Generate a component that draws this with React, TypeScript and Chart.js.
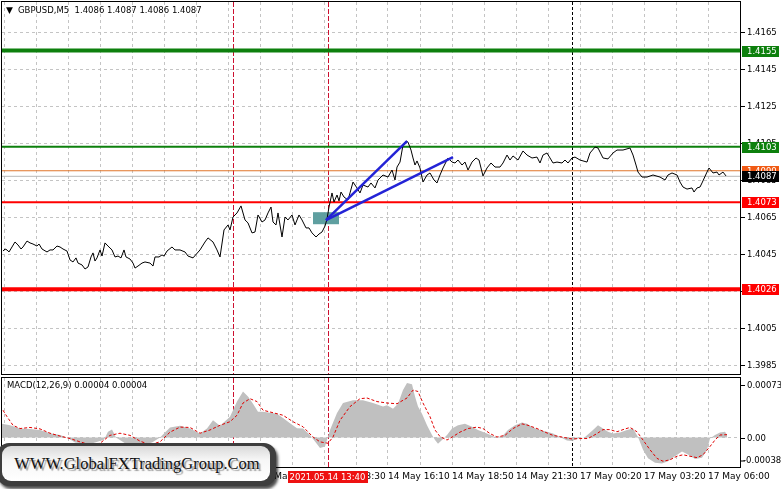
import React, { useEffect, useRef } from "react";
import { Chart, registerables } from "chart.js";

Chart.register(...registerables);

// ---------------- DATA ----------------
// close prices: [bar index, close]
const closeSeries: [number, number][] = [
  [0.5,1.40466],[1.5,1.40477],[2.5,1.40472],[3.5,1.40461],[5,1.40488],[6.5,1.40515],[8,1.40499],[9.5,1.40477],[10.5,1.40488],[12.5,1.40520],
  [14,1.40510],[15.5,1.40504],[17.5,1.40493],[18.5,1.40504],[20,1.40477],[22.5,1.40461],[24,1.40472],[25.5,1.40472],[27.5,1.40493],[29,1.40488],
  [30.5,1.40477],[32.5,1.40466],[34,1.40418],[35.5,1.40407],[37,1.40429],[38,1.40401],[40,1.40391],[41.5,1.40369],[43,1.40380],[44.5,1.40434],
  [45.5,1.40456],[46.5,1.40412],[47.5,1.40429],[49,1.40472],[50,1.40439],[51.5,1.40510],[53,1.40493],[55,1.40472],[56.5,1.40434],[58,1.40439],
  [59.5,1.40429],[61,1.40472],[62,1.40434],[64,1.40423],[65.5,1.40401],[66.5,1.40374],[68,1.40385],[70,1.40401],[71.5,1.40407],[74,1.40401],
  [75.5,1.40385],[76.5,1.40434],[78.5,1.40434],[80,1.40445],[81,1.40439],[82.5,1.40466],[85,1.40488],[86.5,1.40472],[89,1.40472],[91.5,1.40461],
  [93,1.40439],[95.5,1.40429],[99,1.40472],[101.5,1.40515],[103,1.40537],[105.5,1.40515],[107.5,1.40472],[109,1.40434],[111,1.40580],[113,1.40607],
  [114,1.40580],[115.5,1.40650],[117.5,1.40672],[119.5,1.40710],[121.5,1.40634],[123,1.40618],[125,1.40564],[126.5,1.40569],[128,1.40661],[130,1.40623],
  [131.5,1.40634],[133,1.40672],[134.5,1.40704],[135.5,1.40623],[137,1.40607],[138,1.40672],[140,1.40542],[141.5,1.40650],[143,1.40634],[145,1.40661],
  [146.5,1.40607],[148.5,1.40661],[150,1.40634],[152,1.40591],[153.5,1.40591],[155,1.40564],[157,1.40542],[158.5,1.40558],[160,1.40569],[161.5,1.40601],
  [162.5,1.40639],[163.5,1.40704],[165,1.40780],[166,1.40731],[167.5,1.40769],[168.5,1.40737],[169.5,1.40785],[171,1.40758],[173,1.40742],[174,1.40780],
  [175.5,1.40839],[177.5,1.40807],[179,1.40780],[180.5,1.40823],[183,1.40812],[184.5,1.40834],[186.5,1.40807],[188,1.40850],[190.5,1.40877],[193,1.40866],
  [195,1.40904],[196.5,1.40850],[197.5,1.40920],[199,1.40947],[200.5,1.41039],[202,1.41061],[203,1.41055],[204.5,1.41012],[205.5,1.40969],[206.5,1.40931],
  [207.5,1.40953],[209,1.40915],[210.5,1.40839],[212.5,1.40877],[214,1.40888],[216,1.40850],[217.5,1.40834],[219,1.40877],[220.5,1.40915],[223,1.40969],
  [225,1.40947],[226.5,1.40942],[228,1.40958],[230,1.40931],[231.5,1.40947],[233,1.40904],[235,1.40947],[237,1.40969],[238.5,1.40958],[240.5,1.40872],
  [242.5,1.40915],[244.5,1.40942],[246.5,1.40920],[249,1.40920],[250.5,1.40942],[252.5,1.40985],[254,1.40958],[255.5,1.40980],[258,1.40958],[260.5,1.41007],
  [262.5,1.40985],[265,1.40969],[267.5,1.40974],[269,1.40942],[270.5,1.40985],[272.5,1.40996],[274,1.40969],[275.5,1.40942],[277.5,1.40947],[280,1.40942],
  [281.5,1.40958],[283,1.40942],[285,1.40969],[286.5,1.40974],[289,1.40958],[292.5,1.40947],[294,1.40996],[296.5,1.41028],[298,1.41023],[300.5,1.40969],
  [303,1.40964],[305.5,1.40996],[307.5,1.41012],[310.5,1.41012],[314,1.41023],[315.5,1.40985],[317,1.40931],[318,1.40893],[320,1.40866],[322.5,1.40866],
  [325.5,1.40877],[329,1.40866],[331.5,1.40850],[333,1.40877],[335,1.40888],[337.5,1.40877],[339,1.40839],[340.5,1.40812],[342.5,1.40801],[345,1.40807],
  [346,1.40785],[347.5,1.40807],[349,1.40812],[350,1.40834],[352.5,1.40893],[353.5,1.40915],[355.5,1.40888],[357.5,1.40893],[358.5,1.40877],[360.5,1.40893],
  [362,1.40872],
];

// MACD(12,26,9) main (histogram): [bar, value]
const macdMain: [number, number][] = [
  [0,0.00019],[4,0.00017],[9,0.000125],[14,0.00012],[19,0.000105],[24,0.00006],[29,0.000035],[32.5,0],[36.5,-0.00007],[44,-0.00009],
  [51,-0.00003],[53,0.00008],[55,0.00011],[57,0],[61.5,-0.00008],[69,-0.00011],[75,-0.00007],[79,0],[84,0.00014],[89,0.000165],
  [94,0.000125],[99,0.000055],[102.5,0.000125],[105.5,0.00024],[109,0.000165],[114,0.00029],[117.5,0.0005],[120.5,0.00064],[123,0.00057],[125.5,0.00047],
  [128,0.00036],[130.5,0.00036],[134,0.000345],[137.5,0.00033],[140.5,0.00027],[144,0.0002],[147.5,0.00013],[150.5,0.000125],[154,0.000035],[156.5,-0.000055],
  [159,-0.000145],[161.5,-0.000125],[164,0.000105],[167.5,0.00034],[170.5,0.00048],[175.5,0.00052],[180.5,0.00052],[185.5,0.00048],[190.5,0.00043],[192.5,0.00045],
  [195.5,0.0004],[198,0.00047],[200.5,0.00066],[202.5,0.00076],[205,0.00074],[206.5,0.00057],[208,0.00043],[210,0.00033],[212.5,0.00017],[215,0.000035],
  [216.5,-0.000035],[218,-0.000085],[220,-0.000035],[222.5,0.000035],[225,0.000125],[228,0.00017],[231.5,0.00019],[235,0.00015],[238,0.000105],[242.5,0.000055],
  [246.5,0.000007],[250,0.000014],[253,0.000105],[256.5,0.00017],[260,0.00021],[262.5,0.00019],[265.5,0.00014],[269,0.000105],[272.5,0.00008],[275.5,0.000055],
  [279,0.000007],[282.5,-0.00004],[285,-0.00005],[288,-0.000014],[291.5,0.000007],[295.5,0.000105],[298,0.00017],[300.5,0.000125],[303,0.00008],[305.5,0.000055],
  [309,0.00007],[312.5,0.000105],[315.5,0.000125],[318,0.000007],[320.5,-0.00017],[323,-0.00029],[326.5,-0.00035],[330,-0.00036],[333,-0.00033],[336.5,-0.00026],
  [340,-0.000195],[343,-0.000235],[346.5,-0.0003],[350,-0.00028],[352.5,-0.00017],[354,-0.000014],[356.5,0.000035],[359,0.00007],[361.5,0.00008],[362.5,0.00004],
];

// MACD signal line: [bar, value]
const macdSignal: [number, number][] = [
  [0.5,0.00038],[2.5,0.00029],[5.5,0.00017],[9,0.000125],[14,0.00014],[19,0.00012],[24,0.00006],[29,0.00002],[34,-0.000014],[39,-0.00006],
  [44,-0.0001],[49,-0.00008],[54,0.00003],[59,0.00006],[64,0.00003],[69,-0.00005],[74,-0.0001],[79,-0.00006],[84,0.000075],[89,0.000145],
  [94,0.00014],[99,0.00006],[104,0.000105],[109,0.00017],[114,0.00022],[117.5,0.00031],[120.5,0.00048],[124,0.00054],[127.5,0.0005],[130.5,0.00038],
  [135.5,0.000345],[140.5,0.00031],[145.5,0.00022],[150.5,0.00015],[155.5,0.000007],[159,-0.00006],[163,-0.00008],[165.5,0.000007],[169,0.00024],[174,0.00043],
  [179,0.00054],[182.5,0.00055],[187.5,0.0005],[192.5,0.00048],[197.5,0.00047],[202.5,0.00055],[205.5,0.00066],[208,0.00064],[210.5,0.00048],[214,0.00029],
  [216.5,0.000105],[219,0.000014],[222.5,-0.000035],[225.5,0.000014],[229,0.000075],[233,0.000125],[237.5,0.000145],[240.5,0.000125],[244,0.000055],[247.5,0.000007],
  [251.5,0.00003],[255.5,0.000125],[260,0.00019],[263,0.00017],[267.5,0.000125],[271.5,0.000075],[275.5,0.00003],[280,0.000007],[285,-0.00002],[289,-0.000014],
  [293,-0.000014],[297.5,0.000055],[300.5,0.00011],[304,0.00011],[307.5,0.00008],[310.5,0.00011],[314,0.00014],[317.5,0.00008],[320.5,-0.000035],[324,-0.00017],
  [327.5,-0.00029],[330.5,-0.00033],[334,-0.00031],[337.5,-0.00026],[340.5,-0.00024],[344,-0.00026],[347.5,-0.00028],[350.5,-0.00024],[354,-0.000125],[356.5,-0.000035],
  [359,0.000035],[362.5,0.00004],
];

const priceTicks = [1.3985, 1.4005, 1.4025, 1.4045, 1.4065, 1.4085, 1.4105, 1.4125, 1.4145, 1.4165];
const macdTicks = [0.00073, 0, -0.00038];
const macdTickLabels = ["0.00073", "0.00", "-0.00038"];

const levelPrices = [1.4155, 1.4103, 1.409, 1.4073, 1.4026];
const bidPrice = 1.4087;

const timeLabelBars = [1, 33, 65, 97, 129, 161, 193, 225, 257, 289, 321, 353];
const timeLabels = ["14 May 00:10", "14 May 02:50", "14 May 05:30", "14 May 08:10", "14 May 10:50", "14 May 13:30",
  "14 May 16:10", "14 May 18:50", "14 May 21:30", "17 May 00:20", "17 May 03:20", "17 May 06:00"];

const redLineBars = [115.5, 162.75];
const separatorBars = [285];
const cursorBar = 162.75;
const cursorLabel = "2021.05.14 13:40";

const trendStart: [number, number] = [162, 1.40633];
const trendEnds: [number, number][] = [[202.5, 1.4106], [225.5, 1.40974]];
const zoneBars = [155.5, 168.5];
const zonePrices = [1.40611, 1.40676];

const titleText = "GBPUSD,M5  1.4086 1.4087 1.4086 1.4087";
const macdTitle = "MACD(12,26,9) 0.00004 0.00004";
const logoText = "WWW.GlobalFXTradingGroup.Com";

// ---------------- STYLE / LAYOUT ----------------
const FONT = '"DejaVu Sans", Verdana, sans-serif';
const X_MIN = 0;
const X_MAX = 369;
const PRICE_MIN = 1.398014;
const PRICE_MAX = 1.418122;
const MACD_MIN = -0.00041;
const MACD_MAX = 0.000828;
const GRID = "#c4c4c4";
const levelStyles = [
  { line: "#0d800d", width: 4, box: "#0d800d" },
  { line: "#0d800d", width: 2, box: "#0d800d" },
  { line: "#e0742a", width: 1, box: "#f05a14" },
  { line: "#ff0000", width: 2, box: "#ff0000" },
  { line: "#ff0000", width: 4, box: "#ff0000" },
];
const gridBars: number[] = [];
for (let b = 1; b <= X_MAX; b += 16) gridBars.push(b);

function xScale(height: number) {
  return {
    type: "linear",
    min: X_MIN,
    max: X_MAX,
    afterBuildTicks: (s: any) => { s.ticks = gridBars.map((v) => ({ value: v })); },
    afterFit: (s: any) => { s.height = height; },
    ticks: { display: false },
    grid: { color: GRID, lineWidth: 1, drawTicks: false },
    border: { display: false, dash: [3, 3] },
  };
}

function vline(ctx: CanvasRenderingContext2D, px: number, top: number, bottom: number, color: string, dash: number[]) {
  ctx.save();
  ctx.strokeStyle = color;
  ctx.lineWidth = 1;
  ctx.setLineDash(dash);
  const X = Math.round(px) + 0.5;
  ctx.beginPath();
  ctx.moveTo(X, top);
  ctx.lineTo(X, bottom);
  ctx.stroke();
  ctx.restore();
}

function drawVLines(chart: any) {
  const { ctx, chartArea: a, scales } = chart;
  const x = scales.x;
  redLineBars.forEach((b) => vline(ctx, x.getPixelForValue(b), a.top, a.bottom, "#cc1030", [5, 2]));
  separatorBars.forEach((b) => vline(ctx, x.getPixelForValue(b), a.top, a.bottom, "#000000", [3, 2]));
}

function drawBorder(chart: any) {
  const { ctx, chartArea: a } = chart;
  ctx.save();
  ctx.strokeStyle = "#000";
  ctx.lineWidth = 1;
  ctx.setLineDash([]);
  ctx.strokeRect(a.left - 0.5, a.top - 0.5, a.right - a.left + 1, a.bottom - a.top + 1);
  ctx.restore();
}

const mainPlugin = {
  id: "mainDecor",
  beforeDatasetsDraw(chart: any) {
    const { ctx, chartArea: a, scales } = chart;
    const { x, y } = scales;
    ctx.save();
    ctx.beginPath();
    ctx.rect(a.left, a.top, a.right - a.left, a.bottom - a.top);
    ctx.clip();
    drawVLines(chart);
    const rx1 = x.getPixelForValue(zoneBars[0]);
    const rx2 = x.getPixelForValue(zoneBars[1]);
    const ry1 = y.getPixelForValue(zonePrices[1]);
    const ry2 = y.getPixelForValue(zonePrices[0]);
    ctx.fillStyle = "#5f9fa0";
    ctx.fillRect(rx1, ry1, rx2 - rx1, ry2 - ry1);
    ctx.restore();
  },
  afterDraw(chart: any) {
    const { ctx, chartArea: a, scales } = chart;
    const y = scales.y;
    drawBorder(chart);
    ctx.save();
    ctx.font = `8.5px ${FONT}`;
    ctx.textBaseline = "middle";
    ctx.textAlign = "left";
    priceTicks.forEach((v) => {
      const py = Math.round(y.getPixelForValue(v)) + 0.5;
      ctx.strokeStyle = "#000";
      ctx.lineWidth = 1;
      ctx.beginPath();
      ctx.moveTo(a.right + 1, py);
      ctx.lineTo(a.right + 5, py);
      ctx.stroke();
      ctx.fillStyle = "#000";
      ctx.fillText(v.toFixed(4), a.right + 7, py);
    });
    const box = (p: number, bg: string) => {
      const py = y.getPixelForValue(p);
      ctx.fillStyle = bg;
      ctx.fillRect(a.right + 2, Math.round(py) - 5, 37, 11);
      ctx.fillStyle = "#fff";
      ctx.fillText(p.toFixed(4), a.right + 7, Math.round(py) + 0.5);
    };
    levelPrices.forEach((p, i) => box(p, levelStyles[i].box));
    box(bidPrice, "#000");
    ctx.fillStyle = "#000";
    ctx.font = `9px ${FONT}`;
    ctx.fillText("\u25BC", 6, 11);
    ctx.font = `8.5px ${FONT}`;
    ctx.fillText(titleText, 18, 11);
    ctx.restore();
  },
};

const macdPlugin = {
  id: "macdDecor",
  beforeDatasetsDraw(chart: any) {
    const { ctx, chartArea: a } = chart;
    ctx.save();
    ctx.beginPath();
    ctx.rect(a.left, a.top, a.right - a.left, a.bottom - a.top);
    ctx.clip();
    drawVLines(chart);
    ctx.restore();
  },
  afterDraw(chart: any) {
    const { ctx, chartArea: a, scales } = chart;
    const { x, y } = scales;
    drawBorder(chart);
    ctx.save();
    ctx.font = `8.5px ${FONT}`;
    ctx.textBaseline = "middle";
    ctx.textAlign = "left";
    ctx.fillStyle = "#000";
    macdTicks.forEach((v, i) => {
      let py = Math.round(y.getPixelForValue(v)) + 0.5;
      if (py > a.bottom - 6) py = a.bottom - 6;
      ctx.strokeStyle = "#000";
      ctx.lineWidth = 1;
      ctx.beginPath();
      ctx.moveTo(a.right + 1, py);
      ctx.lineTo(a.right + 5, py);
      ctx.stroke();
      ctx.fillText(macdTickLabels[i], v < 0 ? a.right + 3 : a.right + 7, py);
    });
    ctx.font = `9px ${FONT}`;
    timeLabelBars.forEach((b, i) => {
      ctx.fillText(timeLabels[i], Math.round(x.getPixelForValue(b)), a.bottom + 10);
    });
    const cx = x.getPixelForValue(cursorBar);
    ctx.fillStyle = "#ee1111";
    ctx.fillRect(Math.round(cx - 40), a.bottom + 4, 80, 12);
    ctx.fillStyle = "#fff";
    ctx.textAlign = "center";
    ctx.font = `8.5px ${FONT}`;
    ctx.fillText(cursorLabel, cx, a.bottom + 10.5);
    ctx.textAlign = "left";
    ctx.fillStyle = "#000";
    ctx.fillText(macdTitle, 7, a.top + 8);
    ctx.restore();
  },
};

export default function App() {
  const mainRef = useRef<HTMLCanvasElement>(null);
  const macdRef = useRef<HTMLCanvasElement>(null);

  useEffect(() => {
    const levelDatasets = levelPrices.map((p, i) => ({
      data: [{ x: X_MIN, y: p }, { x: X_MAX, y: p }],
      borderColor: levelStyles[i].line,
      borderWidth: levelStyles[i].width,
      pointRadius: 0,
      order: 3,
    }));
    const main = new Chart(mainRef.current as HTMLCanvasElement, {
      type: "line",
      data: {
        datasets: [
          ...trendEnds.map((e) => ({
            data: [{ x: trendStart[0], y: trendStart[1] }, { x: e[0], y: e[1] }],
            borderColor: "#2323d6",
            borderWidth: 2.5,
            pointRadius: 0,
            order: 0,
          })),
          {
            data: closeSeries.map(([b, v]) => ({ x: b, y: v })),
            borderColor: "#000",
            borderWidth: 1,
            pointRadius: 0,
            tension: 0,
            order: 1,
          },
          {
            data: [{ x: X_MIN, y: bidPrice }, { x: X_MAX, y: bidPrice }],
            borderColor: "#b8b8b8",
            borderWidth: 1,
            pointRadius: 0,
            order: 2,
          },
          ...levelDatasets,
        ],
      } as any,
      options: {
        responsive: false,
        animation: false,
        devicePixelRatio: 1,
        events: [],
        layout: { padding: { left: 2, top: 2, right: 0, bottom: 2 } },
        plugins: { legend: { display: false }, tooltip: { enabled: false } },
        scales: {
          x: xScale(0),
          y: {
            type: "linear",
            position: "right",
            min: PRICE_MIN,
            max: PRICE_MAX,
            afterBuildTicks: (s: any) => { s.ticks = priceTicks.map((v) => ({ value: v })); },
            afterFit: (s: any) => { s.width = 41; },
            ticks: { display: false },
            grid: { color: GRID, lineWidth: 1, drawTicks: false },
            border: { display: false, dash: [3, 3] },
          },
        },
      } as any,
      plugins: [mainPlugin],
    });

    const macd = new Chart(macdRef.current as HTMLCanvasElement, {
      type: "line",
      data: {
        datasets: [
          {
            data: macdSignal.map(([b, v]) => ({ x: b, y: v })),
            borderColor: "#e00000",
            borderWidth: 1,
            borderDash: [3, 2],
            pointRadius: 0,
            order: 0,
          },
          {
            data: macdMain.map(([b, v]) => ({ x: b, y: v })),
            borderColor: "rgba(0,0,0,0)",
            borderWidth: 0,
            backgroundColor: "#c0c0c0",
            fill: "origin",
            pointRadius: 0,
            order: 1,
          },
        ],
      } as any,
      options: {
        responsive: false,
        animation: false,
        devicePixelRatio: 1,
        events: [],
        layout: { padding: { left: 2, top: 2, right: 0, bottom: 0 } },
        plugins: { legend: { display: false }, tooltip: { enabled: false } },
        scales: {
          x: xScale(22),
          y: {
            type: "linear",
            position: "right",
            min: MACD_MIN,
            max: MACD_MAX,
            afterBuildTicks: (s: any) => { s.ticks = [{ value: 0 }]; },
            afterFit: (s: any) => { s.width = 41; },
            ticks: { display: false },
            grid: { color: GRID, lineWidth: 1, drawTicks: false },
            border: { display: false, dash: [3, 3] },
          },
        },
      } as any,
      plugins: [macdPlugin],
    });

    return () => {
      main.destroy();
      macd.destroy();
    };
  }, []);

  return (
    <div style={{ position: "absolute", left: 0, top: 0, width: 781, height: 489, overflow: "hidden", background: "#fff" }}>
      <canvas ref={mainRef} width={781} height={376} style={{ position: "absolute", left: 0, top: 0, width: 781, height: 376 }} />
      <canvas ref={macdRef} width={781} height={113} style={{ position: "absolute", left: 0, top: 376, width: 781, height: 113 }} />
      <div
        style={{
          position: "absolute", left: -3, top: 443, width: 279, height: 43, boxSizing: "border-box",
          borderRadius: 12, background: "#3e3e3e",
          boxShadow: "2px 3px 3px rgba(0,0,0,0.7)",
        }}
      >
        <div
          style={{
            position: "absolute", left: 5, top: 3, right: 6, bottom: 5, borderRadius: 9,
            background: "linear-gradient(#d9d9d9, #f6f6f6 40%, #ffffff)",
            display: "flex", justifyContent: "center", alignItems: "center",
          }}
        >
          <span
            style={{
              fontFamily: '"Liberation Serif", "Times New Roman", serif', fontSize: 16.5, lineHeight: "20px",
              color: "#111", textShadow: "2px 2px 1px #9a9a9a", whiteSpace: "nowrap", marginLeft: 2,
            }}
          >
            {logoText}
          </span>
        </div>
      </div>
    </div>
  );
}
